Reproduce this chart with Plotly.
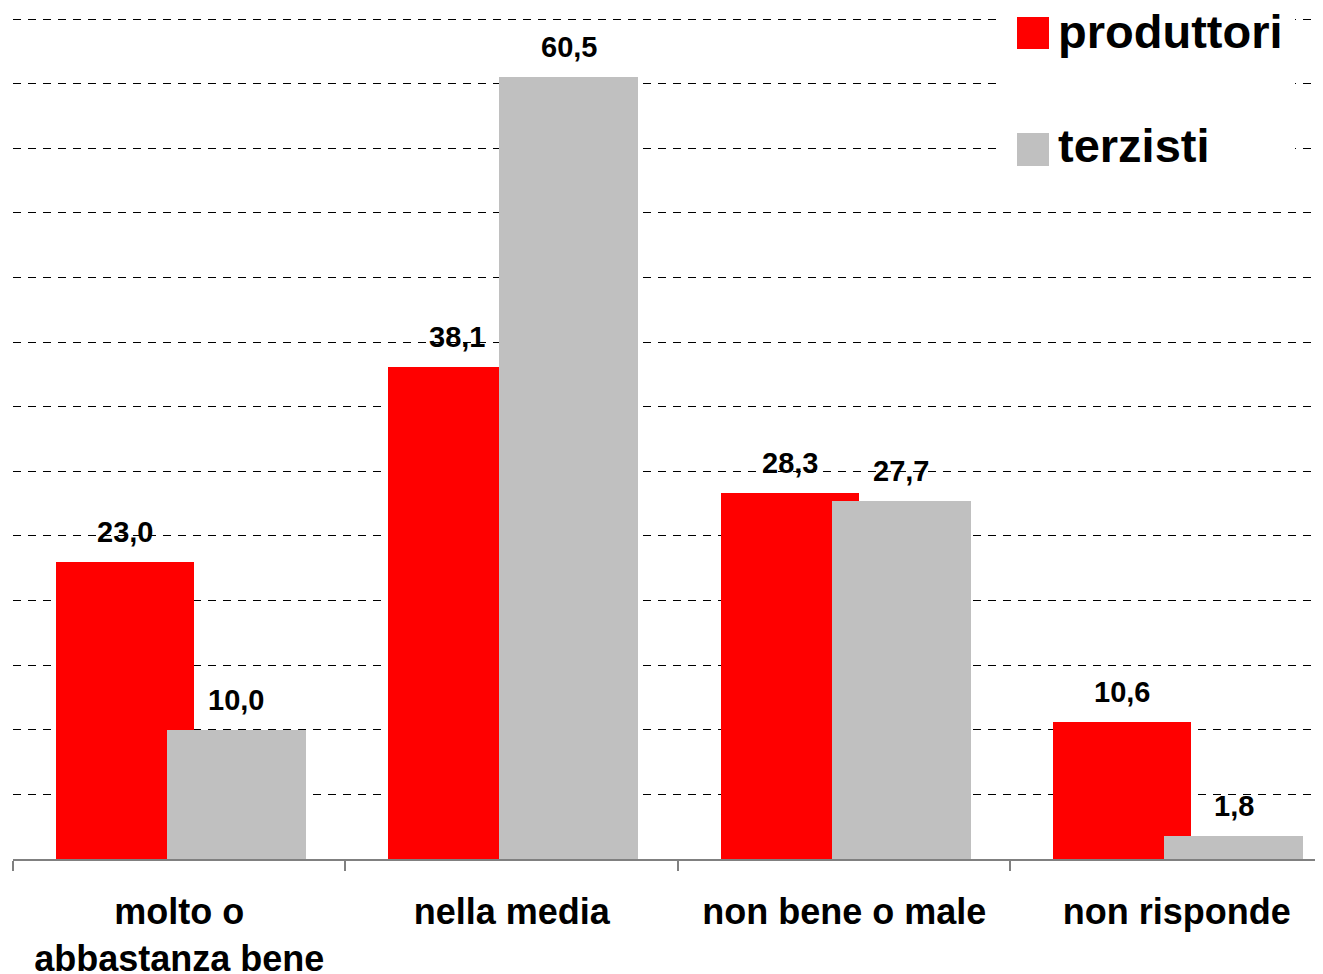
import plotly.graph_objects as go

categories = ["molto o<br>abbastanza bene", "nella media", "non bene o male", "non risponde"]
produttori = [23.0, 38.1, 28.3, 10.6]
terzisti = [10.0, 60.5, 27.7, 1.8]
series_names = ["produttori", "terzisti"]

RED = "#FF0000"
GRAY = "#C0C0C0"
FONT = "Arial, Liberation Sans, sans-serif"

# the page body has an 8px margin; compensate so the chart lands where the reference is
PAGE_OFF = 8
FIG_W, FIG_H = 1323 - PAGE_OFF, 974 - PAGE_OFF

# bar geometry (category units)
W_RED, OFF_RED = 0.415, -0.372
W_GRAY, OFF_GRAY = 0.418, -0.038

fig = go.Figure()
fig.add_trace(go.Bar(name=series_names[0], x=categories, y=produttori,
                     width=W_RED, offset=OFF_RED, marker=dict(color=RED, line=dict(width=0)),
                     showlegend=False))
fig.add_trace(go.Bar(name=series_names[1], x=categories, y=terzisti,
                     width=W_GRAY, offset=OFF_GRAY, marker=dict(color=GRAY, line=dict(width=0)),
                     showlegend=False))

def fmt(v):
    return f"{v:.1f}".replace(".", ",")

annotations = []
for i, (p, t) in enumerate(zip(produttori, terzisti)):
    for v, off, w in ((p, OFF_RED, W_RED), (t, OFF_GRAY, W_GRAY)):
        annotations.append(dict(x=i + off + w / 2, y=v, xref="x", yref="y",
                                text=f"<b>{fmt(v)}</b>", showarrow=False,
                                yanchor="bottom", xanchor="center", yshift=12,
                                font=dict(family=FONT, size=29, color="black")))

# plot area in screen pixels (reference): left 13, right 1323, top 17, bottom 859
PL, PR, PT, PB = 13, 1323, 17, 859

def px2paper_x(px):
    return (px - PL) / (PR - PL)

def px2paper_y(py):
    return (PB - py) / (PB - PT)

shapes = [
    dict(type="rect", xref="paper", yref="paper", layer="above",
         x0=px2paper_x(1000), x1=px2paper_x(1295), y0=px2paper_y(185), y1=px2paper_y(-5),
         fillcolor="white", line=dict(width=0)),
    dict(type="rect", xref="paper", yref="paper", layer="above",
         x0=px2paper_x(1017), x1=px2paper_x(1049), y0=px2paper_y(49), y1=px2paper_y(17),
         fillcolor=RED, line=dict(width=0)),
    dict(type="rect", xref="paper", yref="paper", layer="above",
         x0=px2paper_x(1017), x1=px2paper_x(1049), y0=px2paper_y(166), y1=px2paper_y(133),
         fillcolor=GRAY, line=dict(width=0)),
]
for name, ypx in ((series_names[0], 31), (series_names[1], 146)):
    annotations.append(dict(x=px2paper_x(1056), y=px2paper_y(ypx), xref="paper", yref="paper",
                            text=f"<b>{name}</b>", showarrow=False, xanchor="left",
                            yanchor="middle",
                            font=dict(family=FONT, size=47, color="black")))

fig.update_layout(
    width=FIG_W, height=FIG_H,
    margin=dict(l=PL - PAGE_OFF, r=0, t=PT - PAGE_OFF, b=FIG_H - (PB - PAGE_OFF)),
    paper_bgcolor="white", plot_bgcolor="white",
    barmode="overlay",
    bargap=0,
    annotations=annotations,
    shapes=shapes,
    showlegend=False,
    xaxis=dict(type="category", range=[-0.5, 3.44], tickson="boundaries", automargin=False,
               ticks="outside", ticklen=10, tickcolor="#808080", tickwidth=1.5,
               showline=True, linecolor="#808080", linewidth=1.5,
               showgrid=False, ticklabelstandoff=20,
               tickfont=dict(family=FONT, size=36, color="black")),
    yaxis=dict(range=[0, 65.155], dtick=5, tick0=0, showgrid=True, gridcolor="black",
               gridwidth=1, griddash="8px,7px", zeroline=False, showline=False,
               showticklabels=False, ticks="", automargin=False),
)
fig.update_xaxes(ticktext=[f"<b>{c}</b>" for c in categories], tickvals=categories)

fig.write_html("out.html")
